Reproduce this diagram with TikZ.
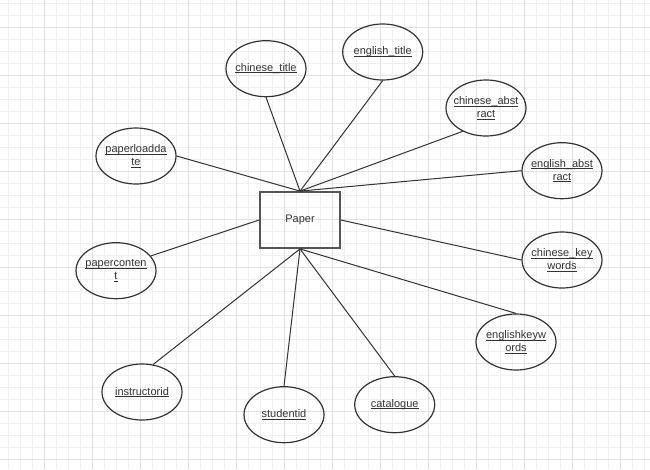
\documentclass[tikz,border=0pt]{standalone}
\usepackage{fontspec}
\setmainfont{Liberation Sans}
\usepackage{xcolor}
\usepackage{tikz}
\usetikzlibrary{shapes.geometric}
\definecolor{LineGray}{HTML}{333333}
\definecolor{BoxGray}{HTML}{555555}
\definecolor{GridMinor}{HTML}{F0F0F0}
\definecolor{GridMajor}{HTML}{E0E0E0}
\newcommand{\ulabel}[1]{\setbox0=\hbox{#1}\rlap{\rule[-1.6pt]{\wd0}{0.7pt}}\box0}

\begin{document}
\begin{tikzpicture}[
            x=1pt, y=-1pt,
            entity/.style={draw=BoxGray, line width=1.8pt, text=LineGray, minimum width=80pt, minimum height=56pt, inner sep=0pt, font=\fontsize{11}{13}\selectfont},
            attr/.style={ellipse, draw=LineGray, line width=1.2pt, text=LineGray, minimum width=80pt, minimum height=56pt, inner xsep=-20pt, inner ysep=-10pt, align=center, font=\fontsize{11}{13}\selectfont},
            link/.style={draw=LineGray, line width=1pt}
        ]
            \useasboundingbox (0,0) rectangle (650,469);
            \fill[white] (0,0) rectangle (650,469);
            % background grid
            \foreach \gx in {0,...,53} \draw[GridMinor, line width=0.8pt] (8.7+12*\gx,0) -- (8.7+12*\gx,469);
            \foreach \gy in {0,...,38} \draw[GridMinor, line width=0.8pt] (0,3.3+12*\gy) -- (650,3.3+12*\gy);
            \foreach \gx in {0,...,13} \draw[GridMajor, line width=0.8pt] (44.7+48*\gx,0) -- (44.7+48*\gx,469);
            \foreach \gy in {0,...,9} \draw[GridMajor, line width=0.8pt] (0,27.3+48*\gy) -- (650,27.3+48*\gy);

            \node[entity] (paper) at (300,220) {Paper};

            \node[attr] (chtitle) at (266,68.7) {\ulabel{chinese\_title}};
            \node[attr] (entitle) at (382.7,52) {\ulabel{english\_title}};
            \node[attr] (chabstract) at (486,108) {\ulabel{chinese\_abst}\\\ulabel{ract}};
            \node[attr] (enabstract) at (562,170.7) {\ulabel{english\_abst}\\\ulabel{ract}};
            \node[attr] (loaddate) at (136,156) {\ulabel{paperloadda}\\\ulabel{te}};
            \node[attr] (content) at (116,270.7) {\ulabel{paperconten}\\\ulabel{t}};
            \node[attr] (instructor) at (142,392) {\ulabel{instructorid}};
            \node[attr] (student) at (284,414.7) {\ulabel{studentid}};
            \node[attr] (catalogue) at (394.7,404.7) {\ulabel{catalogue}};
            \node[attr] (enkeywords) at (516,342) {\ulabel{englishkeyw}\\\ulabel{ords}};
            \node[attr] (chkeywords) at (562,260) {\ulabel{chinese\_key}\\\ulabel{words}};

            % connectors
            \draw[link] (chtitle.south) -- (paper.north);
            \draw[link] (entitle.south) -- (paper.north);
            \draw[link] (chabstract.225) -- (paper.north);
            \draw[link] (enabstract.west) -- (paper.north);
            \draw[link] (loaddate.east) -- (paper.north);
            \draw[link] (content.23) -- (paper.west);
            \draw[link] (chkeywords.west) -- (paper.east);
            \draw[link] (enkeywords.north) -- (paper.south);
            \draw[link] (catalogue.north) -- (paper.south);
            \draw[link] (student.north) -- (paper.south);
            \draw[link] (instructor.68) -- (paper.south);

        \end{tikzpicture}
\end{document}
